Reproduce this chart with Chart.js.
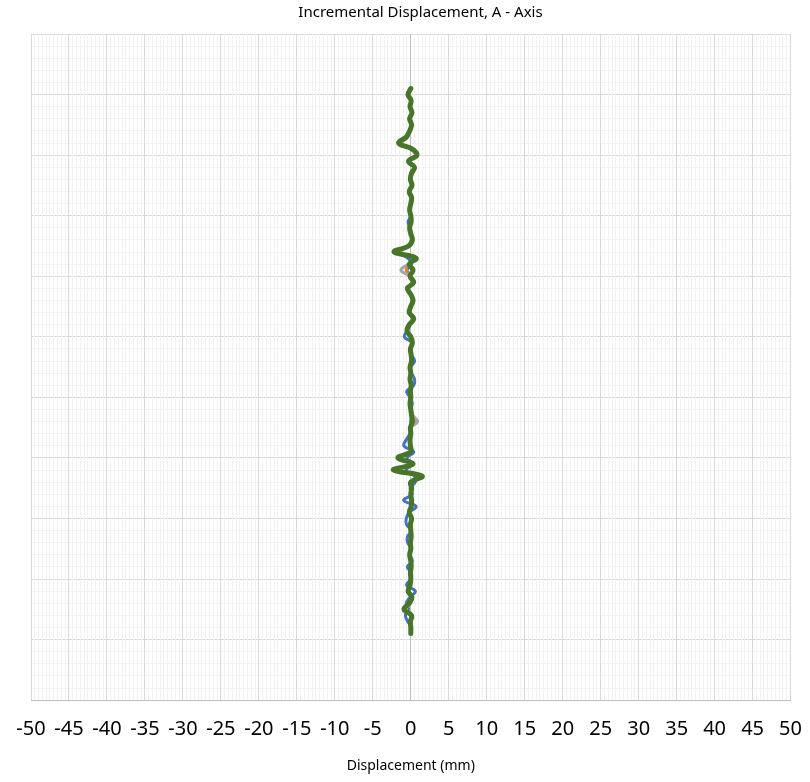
<!DOCTYPE html>
<html>
<head>
<meta charset="utf-8">
<title>Incremental Displacement, A - Axis</title>
<script src="https://cdn.jsdelivr.net/npm/chart.js@4/dist/chart.umd.min.js"></script>
<style>
  html, body { margin: 0; padding: 0; background: #fff; }
  #wrap { position: relative; width: 810px; height: 782px; }
</style>
</head>
<body>
<div id="wrap"><canvas id="dispChart"></canvas></div>
<script>
// depth of each reading (top to bottom)
const depths = [
  4.5, 5, 5.5, 6, 6.5, 7, 7.5, 8, 8.5, 9,
  9.5, 10, 10.5, 11, 11.5, 12, 12.5, 13, 13.5, 14,
  14.5, 15, 15.5, 16, 16.5, 17, 17.5, 18, 18.5, 19,
  19.5, 20, 20.5, 21, 21.5, 22, 22.5, 23, 23.5, 24,
  24.5, 25, 25.5, 26, 26.5, 27, 27.5, 28, 28.5, 29,
  29.5, 30, 30.5, 31, 31.5, 32, 32.5, 33, 33.5, 34,
  34.5, 35, 35.5, 36, 36.5, 37, 37.5, 38, 38.5, 39,
  39.5, 40, 40.5, 41, 41.5, 42, 42.5, 43, 43.5, 44,
  44.5, 45, 45.5, 46, 46.5, 47, 47.5, 48, 48.5, 49,
  49.5
];

// incremental displacement (mm), one list per reading set
const setBlue = [
  0.0, -0.5, 0.1, -0.15, 0.2, -0.1, 0.05, -0.2, -0.4, -1.2,
  0.1, 0.6, -0.2, 0.4, 0.0, -0.1, 0.2, -0.3, 0.05, 0.1,
  -0.2, 0.05, -0.35, -0.1, 0.1, 0.1, -0.2, -1.5, -0.4, 0.1,
  -0.5, 0.0, 0.3, -0.4, 0.1, 0.2, -0.1, -0.1, 0.3, -0.3,
  -0.5, -0.85, 0.2, 0.0, 0.1, 0.5, 0.0, 0.1, 0.5, 0.4,
  -0.55, -0.1, 0.2, 0.0, 0.1, 0.0, 0.1, -0.1, -0.6, -0.9,
  0.4, -0.5, 0.2, -0.6, 0.5, 0.6, -0.1, 0.2, -0.95, 0.7,
  -0.2, -0.6, -0.55, 0.1, -0.45, -0.4, 0.1, -0.1, 0.2, -0.45,
  0.1, 0.0, -0.55, 0.6, -0.1, -0.6, -0.3, -0.7, -0.4, 0.1,
  0.0
];
const setOrange = [
  0.05, -0.3, 0.1, -0.05, 0.1, -0.1, 0.15, -0.1, -0.5, -1.3,
  0.25, 0.7, -0.25, 0.45, 0.15, 0.0, 0.1, -0.15, 0.15, 0.05,
  -0.1, 0.05, 0.0, -0.1, 0.05, 0.25, -0.25, -1.8, 0.6, -0.15,
  -0.6, -0.05, 0.35, -0.4, 0.05, 0.25, 0.05, -0.15, 0.35, -0.15,
  -0.45, 0.05, 0.25, 0.0, 0.1, 0.15, -0.05, 0.05, -0.05, 0.1,
  0.0, 0.05, -0.05, 0.05, 0.15, 0.5, 0.0, 0.05, -0.05, 0.0,
  0.05, -1.5, 0.3, -2.0, 1.3, 0.05, 0.15, 0.05, 0.15, 0.1,
  -0.15, 0.15, 0.0, 0.05, 0.1, 0.0, 0.05, -0.1, 0.05, 0.1,
  0.0, 0.05, -0.05, -0.3, 0.2, -0.15, -0.7, 0.15, 0.0, 0.05,
  0.05
];
const setGray = [
  -0.05, -0.3, 0.0, -0.1, 0.1, -0.2, 0.05, -0.1, -0.55, -1.4,
  0.15, 0.7, -0.3, 0.4, 0.1, -0.1, 0.1, -0.2, 0.05, 0.0,
  -0.1, 0.0, 0.0, -0.2, 0.05, 0.15, -0.35, -1.3, 0.5, -0.3,
  -1.3, -0.1, 0.35, -0.4, -0.05, 0.25, 0.0, -0.2, 0.35, -0.2,
  -0.4, 0.0, 0.15, -0.1, 0.05, 0.05, -0.1, 0.0, -0.1, 0.05,
  -0.05, 0.05, -0.1, 0.05, 0.3, 0.9, 0.0, 0.0, -0.15, -0.05,
  0.0, -1.5, 0.25, -2.0, 1.3, 0.0, 0.1, 0.0, 0.05, 0.0,
  -0.15, 0.05, -0.05, 0.0, 0.05, -0.05, 0.0, -0.1, 0.05, 0.0,
  -0.05, 0.0, -0.1, -0.3, 0.1, -0.15, -0.8, 0.05, -0.05, 0.0,
  0.0
];
const setYellow = [
  0.05, -0.25, 0.1, -0.05, 0.2, -0.1, 0.15, -0.1, -0.45, -1.2,
  0.25, 0.6, -0.2, 0.45, 0.15, 0.0, 0.2, -0.15, 0.15, 0.05,
  -0.1, 0.05, 0.1, -0.1, 0.05, 0.35, -0.25, -1.6, 0.6, -0.1,
  0.35, -0.05, 0.4, -0.35, 0.05, 0.3, 0.05, -0.15, 0.4, -0.15,
  -0.4, 0.05, 0.25, 0.0, 0.1, 0.15, -0.05, 0.05, -0.05, 0.1,
  0.0, 0.05, -0.05, 0.05, 0.15, 0.3, 0.0, 0.05, -0.05, 0.0,
  0.05, -1.4, 0.35, -1.9, 1.3, 0.05, 0.15, 0.05, 0.15, 0.1,
  -0.15, 0.15, 0.0, 0.05, 0.1, 0.0, 0.05, -0.1, 0.05, 0.1,
  0.0, 0.05, -0.05, -0.25, 0.2, -0.15, -0.6, 0.15, 0.0, 0.05,
  0.05
];
const setGreen = [
  0.0, -0.35, 0.05, -0.1, 0.15, -0.15, 0.1, -0.15, -0.6, -1.6,
  0.2, 0.8, -0.3, 0.5, 0.1, -0.05, 0.15, -0.2, 0.1, 0.0,
  -0.15, 0.0, 0.05, -0.15, 0.0, 0.2, -0.3, -2.2, 0.7, -0.2,
  0.3, -0.1, 0.4, -0.45, 0.0, 0.3, 0.0, -0.2, 0.4, -0.2,
  -0.5, 0.0, 0.2, -0.05, 0.05, 0.1, -0.1, 0.0, -0.1, 0.05,
  -0.05, 0.0, -0.1, 0.0, 0.1, 0.2, -0.05, 0.0, -0.1, -0.05,
  0.0, -1.7, 0.3, -2.3, 1.5, 0.0, 0.1, 0.0, 0.1, 0.05,
  -0.2, 0.1, -0.05, 0.0, 0.05, -0.05, 0.0, -0.15, 0.0, 0.05,
  -0.05, 0.0, -0.1, -0.35, 0.15, -0.2, -0.9, 0.1, -0.05, 0.0,
  0.0
];

const xMin = -50, xMax = 50, xMajor = 5, xMinor = 0.5;
const yMin = 0, yMax = 55, yMajor = 5, yMinor = 1;

const isMajor = (v, step) => Math.abs(v - Math.round(v / step) * step) < 1e-6;
const toPoints = vals => vals.map((v, i) => ({ x: v, y: depths[i] }));

const series = [
  { label: 'Set 1', data: setBlue, color: '#4472C4', width: 3, order: 5 },
  { label: 'Set 2', data: setOrange, color: '#ED7D31', width: 3, order: 4 },
  { label: 'Set 3', data: setGray, color: '#A5A5A5', width: 3, order: 3 },
  { label: 'Set 4', data: setYellow, color: '#FFC000', width: 3, order: 2 },
  { label: 'Set 5', data: setGreen, color: '#47752A', width: 5, order: 1 }
];

const ctx = document.getElementById('dispChart').getContext('2d');

new Chart(ctx, {
  type: 'scatter',
  data: {
    datasets: series.map(s => ({
      label: s.label,
      data: toPoints(s.data),
      showLine: true,
      borderColor: s.color,
      backgroundColor: s.color,
      borderWidth: s.width,
      pointRadius: 0,
      tension: 0.4,
      borderJoinStyle: 'round',
      borderCapStyle: 'round',
      order: s.order
    }))
  },
  options: {
    responsive: true,
    maintainAspectRatio: false,
    animation: false,
    layout: { padding: { left: 31, right: 0, top: 0, bottom: 0 } },
    plugins: {
      legend: { display: false },
      tooltip: { enabled: false },
      title: {
        display: true,
        text: 'Incremental Displacement, A - Axis',
        color: '#000',
        font: { family: 'Noto Sans', size: 15, weight: 'normal' },
        padding: { top: 4, bottom: 12 }
      }
    },
    scales: {
      y: {
        type: 'linear',
        reverse: true,
        min: yMin,
        max: yMax,
        ticks: { display: false, stepSize: yMinor, autoSkip: false },
        grid: {
          drawTicks: false,
          color: c => (c.tick && isMajor(c.tick.value, yMajor)) ? '#d9d9d9' : '#f2f2f2'
        },
        border: { color: '#d9d9d9' }
      },
      x: {
        type: 'linear',
        min: xMin,
        max: xMax,
        ticks: {
          stepSize: xMinor,
          autoSkip: false,
          maxRotation: 0,
          minRotation: 0,
          padding: 8,
          color: '#000',
          font: { family: 'Noto Sans', size: 20 },
          callback: v => isMajor(v, xMajor) ? String(Math.round(v)) : ''
        },
        grid: {
          drawTicks: true,
          tickLength: 9,
          tickColor: 'rgba(0,0,0,0)',
          color: c => {
            if (!c.tick) return '#f2f2f2';
            if (Math.abs(c.tick.value) < 1e-6) return '#bfbfbf';
            return isMajor(c.tick.value, xMajor) ? '#d9d9d9' : '#f2f2f2';
          }
        },
        border: { color: '#bfbfbf' },
        title: {
          display: true,
          text: 'Displacement (mm)',
          color: '#000',
          font: { family: 'Noto Sans', size: 14 },
          padding: { top: 8, bottom: 8 }
        }
      }
    }
  }
});
</script>
</body>
</html>
